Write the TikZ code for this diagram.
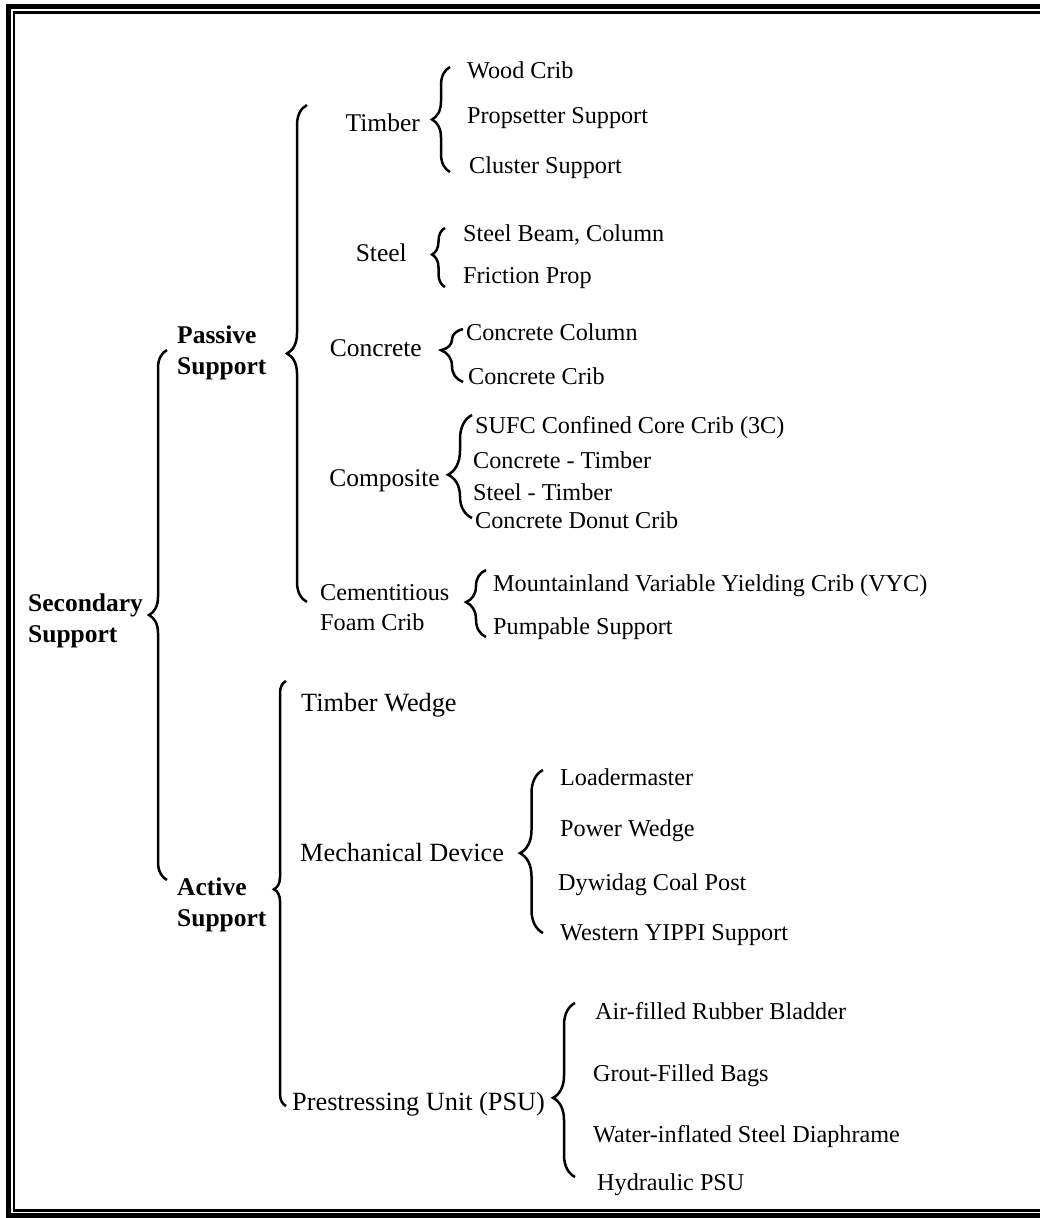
\documentclass[tikz,border=0pt]{standalone}
\usepackage{fontspec}
\setmainfont{Liberation Serif}
\usetikzlibrary{decorations.pathreplacing}
\begin{document}
\begin{tikzpicture}[x=1pt,y=-1pt,
  item/.style={anchor=base west,inner sep=0pt,font=\fontsize{24.2}{30}\selectfont},
  branch/.style={anchor=base west,inner sep=0pt,font=\fontsize{26.3}{30}\selectfont},
  group/.style={anchor=base east,inner sep=0pt,font=\fontsize{25.5}{30}\selectfont},
  head/.style={anchor=west,inner sep=0pt,align=left,font=\fontsize{25.5}{31}\selectfont\bfseries},
  twoline/.style={anchor=west,inner sep=0pt,align=left,font=\fontsize{24.2}{30}\selectfont},
  curly/.style={decorate,line width=2.5pt,decoration={brace,amplitude=#1}},
  curly/.default=18pt]
\useasboundingbox (0,0) rectangle (1039,1218);
% double frame (right edge runs off the page)
\draw[line width=5.5pt] (8.5,6.5) rectangle (1050,1215.8);
\draw[line width=2.2pt] (14,12.5) rectangle (1044,1210.5);

% root
\node[head] (sec) at (28,620.5) {Secondary\\Support};
\coordinate (secT) at (167,350);
\coordinate (secB) at (167,880);
\draw[curly=18pt,decoration={aspect=0.5}] (secB) -- (secT);

% ---------- passive support ----------
\node[head] (pas) at (177,352.5) {Passive\\Support};
\coordinate (pasT) at (307,105);
\coordinate (pasB) at (307,602);
\draw[curly=20pt,decoration={aspect=0.5}] (pasB) -- (pasT);

% timber
\node[group] (tim) at (420,131) {Timber};
\coordinate (timT) at (450,67);
\coordinate (timB) at (450,172);
\draw[curly=18pt,decoration={aspect=0.5}] (timB) -- (timT);
\node[item] (tim1) at (467,78) {Wood Crib};
\node[item] (tim2) at (467,123) {Propsetter Support};
\node[item] (tim3) at (469,173) {Cluster Support};

% steel
\node[group] (stl) at (407,261) {Steel};
\coordinate (stlT) at (445,228);
\coordinate (stlB) at (445,287);
\draw[curly=13pt,decoration={aspect=0.55}] (stlB) -- (stlT);
\node[item] (stl1) at (463,241) {Steel Beam, Column};
\node[item] (stl2) at (463,283) {Friction Prop};

% concrete
\node[group] (con) at (422,356) {Concrete};
\coordinate (conT) at (463,329);
\coordinate (conB) at (463,382);
\draw[curly=22pt,decoration={aspect=0.6}] (conB) -- (conT);
\node[item] (con1) at (466,340) {Concrete Column};
\node[item] (con2) at (468,384) {Concrete Crib};

% composite
\node[group] (cmp) at (440,486) {Composite};
\coordinate (cmpT) at (472,415);
\coordinate (cmpB) at (472,518);
\draw[curly=24pt,decoration={aspect=0.42}] (cmpB) -- (cmpT);
\node[item] (cmp1) at (475,433) {SUFC Confined Core Crib (3C)};
\node[item] (cmp2) at (473,468) {Concrete - Timber};
\node[item] (cmp3) at (473,500) {Steel - Timber};
\node[item] (cmp4) at (475,528) {Concrete Donut Crib};

% cementitious foam crib
\node[twoline] (cem) at (320,608) {Cementitious\\Foam Crib};
\coordinate (cemT) at (486,570);
\coordinate (cemB) at (486,637);
\draw[curly=20pt,decoration={aspect=0.52}] (cemB) -- (cemT);
\node[item] (cem1) at (493,591) {Mountainland Variable Yielding Crib (VYC)};
\node[item] (cem2) at (493,634) {Pumpable Support};

% ---------- active support ----------
\node[head] (act) at (177,905) {Active\\Support};
\coordinate (actT) at (286,681);
\coordinate (actB) at (286,1106);
\draw[curly=12pt,decoration={aspect=0.51}] (actB) -- (actT);

\node[branch] (tw) at (301,711) {Timber Wedge};

% mechanical device
\node[branch] (mec) at (300,861) {Mechanical Device};
\coordinate (mecT) at (543,770);
\coordinate (mecB) at (543,933);
\draw[curly=23pt,decoration={aspect=0.49}] (mecB) -- (mecT);
\node[item] (mec1) at (560,785) {Loadermaster};
\node[item] (mec2) at (560,836) {Power Wedge};
\node[item] (mec3) at (558,890) {Dywidag Coal Post};
\node[item] (mec4) at (560,940) {Western YIPPI Support};

% prestressing unit
\node[branch] (psu) at (292,1110) {Prestressing Unit (PSU)};
\coordinate (psuT) at (575,1003);
\coordinate (psuB) at (575,1177);
\draw[curly=22pt,decoration={aspect=0.455}] (psuB) -- (psuT);
\node[item] (psu1) at (595,1019) {Air-filled Rubber Bladder};
\node[item] (psu2) at (593,1081) {Grout-Filled Bags};
\node[item] (psu3) at (593,1142) {Water-inflated Steel Diaphrame};
\node[item] (psu4) at (597,1190) {Hydraulic PSU};
\end{tikzpicture}
\end{document}
